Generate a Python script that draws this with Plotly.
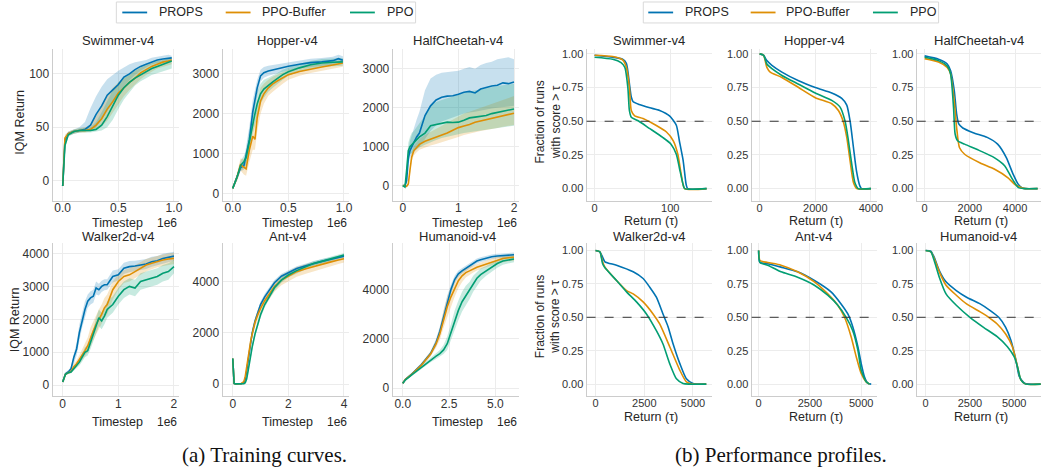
import plotly.graph_objects as go

W, H = 1047, 471
FONT = "Liberation Sans, Arial, DejaVu Sans, sans-serif"
SERIF = "Liberation Serif, Times New Roman, serif"
METHODS = ["PROPS", "PPO-Buffer", "PPO"]
COLORS = {"PROPS": "#0173b2", "PPO-Buffer": "#de8f05", "PPO": "#029e73"}
FILLS = {"PROPS": "rgba(1,115,178,0.22)", "PPO-Buffer": "rgba(222,143,5,0.22)", "PPO": "rgba(2,158,115,0.22)"}
ENVS = ["Swimmer-v4", "Hopper-v4", "HalfCheetah-v4", "Walker2d-v4", "Ant-v4", "Humanoid-v4"]

# ---------------- (a) training curves : timestep (1e6) vs IQM return ----------------
SWIM_T = [0, 0.02, 0.05, 0.1, 0.15, 0.2, 0.25, 0.3, 0.35, 0.4, 0.45, 0.5, 0.55, 0.6, 0.65, 0.7, 0.75, 0.8, 0.85, 0.9, 0.95, 0.98]
SWIM_PROPS = [-5, 38, 44, 46, 47, 48, 52, 62, 70, 80, 85, 90, 97, 100, 104, 107, 109, 111, 113, 114, 115, 115]
SWIM_PROPS_LO = [-7, 34, 42, 44, 45, 46, 47, 50, 57, 64, 72, 80, 88, 94, 99, 103, 106, 109, 110, 111, 112, 112]
SWIM_PROPS_HI = [-3, 41, 46, 48, 50, 55, 68, 79, 88, 95, 99, 103, 106, 109, 111, 112, 113, 115, 116, 117, 118, 117]
SWIM_BUF = [-5, 40, 44, 46, 47, 47, 48, 52, 58, 67, 74, 82, 87, 92, 96, 101, 104, 107, 109, 111, 112, 113]
SWIM_BUF_LO = [-7, 36, 42, 44, 45, 45, 46, 48, 51, 56, 63, 71, 79, 85, 90, 95, 99, 102, 105, 107, 108, 109]
SWIM_BUF_HI = [-3, 43, 46, 48, 49, 50, 52, 60, 70, 80, 87, 92, 96, 99, 103, 106, 108, 110, 112, 113, 114, 115]
SWIM_PPO = [-5, 33, 43, 46, 47, 47, 47, 48, 52, 60, 70, 80, 87, 92, 96, 99, 102, 105, 107, 109, 111, 112]
SWIM_PPO_LO = [-7, 30, 41, 44, 45, 45, 45, 46, 47, 50, 57, 67, 76, 83, 89, 93, 96, 99, 101, 103, 104, 105]
SWIM_PPO_HI = [-3, 36, 45, 48, 49, 49, 50, 55, 64, 75, 85, 92, 97, 100, 103, 106, 108, 110, 112, 113, 114, 115]

HOP_T = [0, 0.04, 0.07, 0.1, 0.12, 0.15, 0.18, 0.2, 0.22, 0.25, 0.28, 0.32, 0.36, 0.4, 0.45, 0.5, 0.6, 0.7, 0.8, 0.9, 0.95, 0.99]
HOP_PROPS = [130, 400, 650, 700, 950, 1350, 2050, 2400, 2650, 2950, 3030, 3070, 3100, 3130, 3150, 3190, 3240, 3280, 3300, 3330, 3380, 3340]
HOP_PROPS_LO = [100, 330, 560, 600, 750, 1050, 1700, 2150, 2450, 2800, 2900, 2950, 2990, 3020, 3050, 3090, 3140, 3180, 3200, 3230, 3280, 3250]
HOP_PROPS_HI = [160, 470, 740, 820, 1150, 1700, 2350, 2650, 2850, 3100, 3170, 3200, 3220, 3250, 3260, 3300, 3340, 3380, 3400, 3430, 3480, 3440]
HOP_BUF = [130, 420, 720, 650, 620, 1100, 1440, 1360, 1900, 2320, 2500, 2650, 2750, 2820, 2900, 2980, 3060, 3120, 3170, 3220, 3250, 3270]
HOP_BUF_LO = [100, 330, 580, 480, 450, 800, 1100, 1100, 1550, 2000, 2250, 2450, 2550, 2650, 2750, 2850, 2950, 3020, 3080, 3130, 3160, 3180]
HOP_BUF_HI = [160, 520, 880, 850, 850, 1450, 1800, 1800, 2300, 2650, 2750, 2850, 2930, 2980, 3050, 3100, 3170, 3220, 3260, 3300, 3330, 3350]
HOP_PPO = [130, 420, 700, 800, 900, 1350, 1800, 2000, 2250, 2500, 2620, 2720, 2800, 2880, 2980, 3050, 3150, 3230, 3270, 3290, 3300, 3300]
HOP_PPO_LO = [100, 350, 580, 650, 720, 1100, 1500, 1700, 1950, 2250, 2400, 2550, 2650, 2750, 2850, 2950, 3050, 3130, 3170, 3190, 3200, 3200]
HOP_PPO_HI = [160, 490, 820, 950, 1080, 1600, 2100, 2300, 2550, 2750, 2850, 2900, 2950, 3020, 3100, 3160, 3250, 3320, 3370, 3390, 3400, 3400]

HC_T = [0, 0.04, 0.07, 0.1, 0.13, 0.16, 0.2, 0.25, 0.3, 0.4, 0.5, 0.6, 0.7, 0.8, 0.9, 1.0, 1.1, 1.2, 1.3, 1.4, 1.5, 1.6, 1.7, 1.8, 1.9, 2.0]
HC_PROPS = [0, 0, 130, 700, 900, 1000, 1110, 1250, 1350, 1800, 2050, 2200, 2270, 2300, 2310, 2350, 2400, 2420, 2380, 2480, 2530, 2560, 2580, 2640, 2620, 2660]
HC_PROPS_LO = [0, -30, 50, 550, 700, 800, 880, 950, 1000, 1200, 1400, 1550, 1650, 1700, 1750, 1800, 1850, 1880, 1900, 1920, 1950, 1980, 2000, 2020, 2030, 2050]
HC_PROPS_HI = [0, 30, 250, 900, 1150, 1300, 1500, 1700, 1900, 2450, 2750, 2850, 2900, 2920, 2930, 2950, 3000, 3050, 3000, 3100, 3150, 3180, 3250, 3280, 3300, 3250]
HC_BUF = [0, 0, -20, 40, 400, 730, 900, 990, 1060, 1140, 1190, 1240, 1290, 1350, 1420, 1490, 1530, 1570, 1630, 1660, 1700, 1730, 1760, 1800, 1830, 1860]
HC_BUF_LO = [0, -20, -50, 0, 300, 620, 780, 860, 920, 980, 1030, 1070, 1100, 1150, 1200, 1250, 1300, 1330, 1370, 1400, 1430, 1460, 1480, 1510, 1540, 1560]
HC_BUF_HI = [0, 20, 10, 80, 500, 840, 1020, 1120, 1200, 1300, 1380, 1450, 1520, 1600, 1700, 1780, 1850, 1900, 1950, 2000, 2050, 2100, 2150, 2200, 2250, 2300]
HC_PPO = [0, -40, 400, 900, 1000, 1050, 1090, 1180, 1250, 1350, 1540, 1570, 1600, 1630, 1620, 1630, 1680, 1740, 1760, 1780, 1800, 1850, 1880, 1920, 1950, 1970]
HC_PPO_LO = [0, -60, 250, 700, 800, 850, 880, 930, 980, 1050, 1120, 1170, 1220, 1260, 1290, 1320, 1350, 1380, 1400, 1420, 1440, 1460, 1480, 1500, 1520, 1540]
HC_PPO_HI = [0, -20, 550, 1100, 1250, 1350, 1400, 1500, 1600, 1800, 2050, 2150, 2200, 2250, 2300, 2350, 2380, 2420, 2450, 2480, 2500, 2530, 2560, 2580, 2600, 2620]

WAL_T = [0, 0.05, 0.1, 0.15, 0.2, 0.25, 0.3, 0.35, 0.4, 0.45, 0.5, 0.55, 0.6, 0.65, 0.7, 0.75, 0.8, 0.9, 1.0, 1.1, 1.2, 1.3, 1.4, 1.5, 1.6, 1.7, 1.8, 1.9, 2.0]
WAL_PROPS = [100, 350, 400, 500, 850, 1100, 1600, 2000, 2300, 2550, 2650, 2700, 2950, 2900, 3000, 3050, 3050, 3300, 3350, 3550, 3600, 3620, 3650, 3680, 3750, 3780, 3850, 3880, 3920]
WAL_PROPS_LO = [80, 300, 350, 430, 650, 900, 1350, 1750, 2050, 2350, 2450, 2500, 2750, 2720, 2830, 2880, 2900, 3120, 3180, 3380, 3430, 3460, 3500, 3530, 3600, 3640, 3700, 3740, 3780]
WAL_PROPS_HI = [120, 400, 450, 570, 950, 1300, 1850, 2250, 2550, 2750, 2850, 2900, 3150, 3080, 3170, 3220, 3220, 3480, 3520, 3720, 3770, 3780, 3800, 3830, 3900, 3920, 3990, 4010, 4050]
WAL_BUF = [100, 330, 380, 420, 560, 650, 780, 900, 1050, 1200, 1450, 1650, 1850, 2000, 2150, 2350, 2450, 2900, 3150, 3300, 3350, 3450, 3550, 3650, 3700, 3760, 3800, 3830, 3850]
WAL_BUF_LO = [80, 300, 340, 370, 480, 560, 660, 760, 880, 1000, 1200, 1350, 1550, 1700, 1850, 2050, 2150, 2600, 2900, 3100, 3150, 3250, 3350, 3450, 3520, 3580, 3620, 3650, 3680]
WAL_BUF_HI = [120, 360, 420, 480, 650, 760, 920, 1100, 1300, 1450, 1750, 1950, 2150, 2300, 2450, 2650, 2750, 3150, 3380, 3500, 3550, 3650, 3750, 3830, 3880, 3930, 3970, 4000, 4020]
WAL_PPO = [100, 330, 380, 400, 500, 600, 700, 850, 1000, 1050, 1300, 1500, 1800, 2050, 1950, 2100, 2300, 2450, 2700, 2900, 3000, 2950, 3150, 3200, 3250, 3300, 3400, 3450, 3600]
WAL_PPO_LO = [80, 300, 340, 360, 440, 520, 600, 720, 850, 900, 1100, 1300, 1550, 1800, 1700, 1850, 2050, 2200, 2450, 2650, 2750, 2700, 2900, 2950, 3000, 3050, 3150, 3200, 3400]
WAL_PPO_HI = [120, 360, 420, 440, 560, 680, 800, 980, 1150, 1200, 1500, 1700, 2050, 2300, 2200, 2350, 2550, 2700, 2950, 3150, 3250, 3200, 3400, 3450, 3500, 3550, 3650, 3700, 3800]

ANT_T = [0, 0.05, 0.1, 0.2, 0.3, 0.4, 0.45, 0.5, 0.55, 0.6, 0.65, 0.7, 0.8, 0.9, 1.0, 1.15, 1.3, 1.5, 1.75, 2.0, 2.3, 2.6, 2.9, 3.2, 3.5, 3.8, 4.0]
ANT_PROPS = [1000, 30, 10, 10, 15, 60, 200, 500, 900, 1350, 1700, 2000, 2450, 2800, 3100, 3400, 3650, 3950, 4200, 4350, 4500, 4600, 4700, 4780, 4850, 4920, 4980]
ANT_PROPS_LO = [980, 10, 0, 0, 0, 30, 150, 420, 800, 1230, 1580, 1880, 2330, 2680, 2980, 3280, 3540, 3850, 4100, 4260, 4410, 4510, 4610, 4690, 4770, 4840, 4900]
ANT_PROPS_HI = [1020, 50, 20, 20, 30, 90, 250, 580, 1000, 1470, 1820, 2120, 2570, 2920, 3220, 3520, 3760, 4050, 4300, 4440, 4590, 4690, 4790, 4870, 4930, 5000, 5060]
ANT_BUF = [1000, 30, 10, 10, 20, 100, 300, 650, 1050, 1450, 1700, 1950, 2400, 2700, 2950, 3250, 3500, 3800, 4050, 4200, 4380, 4480, 4580, 4650, 4750, 4830, 4880]
ANT_BUF_LO = [980, 10, 0, 0, 0, 60, 220, 540, 920, 1300, 1540, 1780, 2220, 2500, 2750, 3050, 3300, 3600, 3850, 4000, 4180, 4290, 4400, 4480, 4590, 4680, 4740]
ANT_BUF_HI = [1020, 50, 20, 20, 40, 140, 380, 760, 1180, 1600, 1860, 2120, 2580, 2900, 3150, 3450, 3700, 4000, 4250, 4400, 4560, 4660, 4750, 4810, 4900, 4970, 5010]
ANT_PPO = [1000, 30, 10, 10, 10, 20, 60, 200, 500, 850, 1150, 1450, 1950, 2350, 2700, 3100, 3400, 3750, 4050, 4250, 4420, 4550, 4700, 4780, 4870, 4960, 5030]
ANT_PPO_LO = [980, 10, 0, 0, 0, 5, 30, 140, 420, 750, 1040, 1330, 1830, 2230, 2580, 2980, 3280, 3640, 3950, 4150, 4330, 4460, 4610, 4700, 4790, 4880, 4950]
ANT_PPO_HI = [1020, 50, 20, 20, 20, 35, 90, 260, 580, 950, 1260, 1570, 2070, 2470, 2820, 3220, 3520, 3860, 4150, 4350, 4510, 4640, 4790, 4860, 4950, 5040, 5110]

HUM_T = [0, 0.15, 0.5, 1.0, 1.5, 1.8, 2.0, 2.2, 2.4, 2.6, 2.8, 3.0, 3.2, 3.4, 3.6, 3.8, 4.0, 4.2, 4.5, 4.8, 5.1, 5.4, 5.7, 6.0]
HUM_PROPS = [200, 360, 580, 950, 1400, 1850, 2300, 2900, 3500, 4000, 4400, 4630, 4750, 4850, 4950, 5050, 5150, 5200, 5270, 5320, 5350, 5370, 5380, 5400]
HUM_PROPS_LO = [150, 320, 530, 880, 1300, 1700, 2100, 2650, 3250, 3800, 4250, 4500, 4640, 4750, 4850, 4950, 5050, 5100, 5180, 5230, 5260, 5280, 5290, 5300]
HUM_PROPS_HI = [250, 400, 630, 1020, 1500, 2000, 2500, 3150, 3750, 4200, 4550, 4760, 4860, 4950, 5050, 5150, 5250, 5300, 5360, 5410, 5440, 5460, 5470, 5490]
HUM_BUF = [200, 360, 570, 930, 1380, 1800, 2200, 2800, 3300, 3700, 4050, 4350, 4550, 4680, 4750, 4830, 4900, 4950, 5030, 5120, 5200, 5250, 5280, 5300]
HUM_BUF_LO = [150, 320, 520, 860, 1280, 1650, 1950, 2450, 2900, 3300, 3700, 4050, 4300, 4480, 4580, 4680, 4760, 4820, 4900, 4980, 5060, 5110, 5140, 5160]
HUM_BUF_HI = [250, 400, 620, 1000, 1480, 1950, 2450, 3150, 3700, 4100, 4400, 4650, 4800, 4880, 4920, 4980, 5040, 5080, 5160, 5250, 5330, 5380, 5410, 5440]
HUM_PPO = [200, 340, 550, 850, 1150, 1300, 1400, 1550, 1800, 2250, 2750, 3150, 3500, 3750, 3950, 4250, 4450, 4600, 4750, 4900, 5050, 5150, 5200, 5230]
HUM_PPO_LO = [150, 300, 500, 780, 1050, 1180, 1270, 1380, 1550, 1900, 2350, 2750, 3100, 3350, 3600, 3900, 4150, 4350, 4550, 4720, 4880, 5000, 5060, 5100]
HUM_PPO_HI = [250, 380, 600, 920, 1250, 1420, 1550, 1750, 2100, 2600, 3150, 3550, 3900, 4150, 4300, 4550, 4720, 4850, 4950, 5080, 5200, 5290, 5330, 5360]

# ---------------- (b) performance profiles : return tau vs fraction of runs ----------------
PP_SWIM_PROPS_X = [0, 24, 37, 42, 46, 48.5, 51, 59, 73, 86, 99, 108, 112, 117, 121, 123, 148]
PP_SWIM_PROPS_Y = [0.99, 0.975, 0.96, 0.93, 0.78, 0.68, 0.645, 0.625, 0.60, 0.58, 0.54, 0.47, 0.355, 0.21, 0.03, 0.0, 0.0]
PP_SWIM_BUF_X = [0, 24, 37, 42, 46, 48.5, 53, 64, 81, 95, 104, 110, 114.5, 119, 148]
PP_SWIM_BUF_Y = [0.99, 0.98, 0.955, 0.90, 0.75, 0.58, 0.54, 0.52, 0.47, 0.42, 0.355, 0.255, 0.105, 0.0, 0.0]
PP_SWIM_PPO_X = [0, 24, 35, 40, 44, 46, 48.5, 57, 73, 90, 101, 108, 112, 117, 119, 148]
PP_SWIM_PPO_Y = [0.975, 0.96, 0.935, 0.90, 0.75, 0.58, 0.53, 0.505, 0.445, 0.38, 0.33, 0.255, 0.155, 0.03, 0.0, 0.0]

PP_HOP_PROPS_X = [0, 140, 260, 440, 800, 1400, 2000, 2590, 2950, 3130, 3250, 3370, 3480, 3600, 3660, 4000]
PP_HOP_PROPS_Y = [1.0, 0.99, 0.95, 0.915, 0.865, 0.80, 0.75, 0.71, 0.67, 0.62, 0.50, 0.305, 0.13, 0.02, 0.0, 0.0]
PP_HOP_BUF_X = [0, 140, 260, 380, 800, 1400, 2000, 2590, 2830, 3000, 3130, 3250, 3370, 3490, 4000]
PP_HOP_BUF_Y = [1.0, 0.99, 0.90, 0.865, 0.825, 0.75, 0.675, 0.63, 0.58, 0.50, 0.38, 0.205, 0.045, 0.0, 0.0]
PP_HOP_PPO_X = [0, 140, 260, 440, 800, 1400, 2000, 2590, 2890, 3070, 3190, 3310, 3420, 3540, 4000]
PP_HOP_PPO_Y = [1.0, 0.99, 0.925, 0.89, 0.84, 0.775, 0.71, 0.655, 0.605, 0.50, 0.355, 0.18, 0.045, 0.0, 0.0]

PP_HC_PROPS_X = [0, 615, 1000, 1150, 1310, 1415, 1510, 1690, 2150, 2770, 3230, 3615, 3920, 4150, 4300, 4460, 5000]
PP_HC_PROPS_Y = [0.985, 0.96, 0.925, 0.875, 0.73, 0.555, 0.48, 0.45, 0.415, 0.38, 0.33, 0.23, 0.105, 0.03, 0.007, 0.0, 0.0]
PP_HC_BUF_X = [0, 615, 1000, 1150, 1310, 1415, 1540, 1770, 2460, 3080, 3690, 4000, 4300, 4460, 5000]
PP_HC_BUF_Y = [0.965, 0.94, 0.90, 0.85, 0.65, 0.455, 0.305, 0.255, 0.19, 0.145, 0.08, 0.03, 0.007, 0.0, 0.0]
PP_HC_PPO_X = [0, 615, 1000, 1150, 1280, 1350, 1460, 1770, 2460, 3080, 3540, 3850, 4150, 4380, 5000]
PP_HC_PPO_Y = [0.975, 0.95, 0.91, 0.85, 0.60, 0.405, 0.355, 0.33, 0.28, 0.23, 0.17, 0.08, 0.007, 0.0, 0.0]

PP_WAL_PROPS_X = [0, 220, 360, 480, 1075, 1930, 2440, 2780, 3120, 3460, 3720, 3980, 4320, 4660, 5000, 5680]
PP_WAL_PROPS_Y = [1.0, 0.99, 0.95, 0.915, 0.89, 0.84, 0.79, 0.725, 0.65, 0.525, 0.43, 0.30, 0.155, 0.04, 0.005, 0.0]
PP_WAL_BUF_X = [0, 220, 360, 480, 1075, 1590, 1930, 2440, 2950, 3290, 3805, 4320, 4660, 5000, 5680]
PP_WAL_BUF_Y = [1.0, 0.99, 0.915, 0.875, 0.775, 0.70, 0.675, 0.615, 0.525, 0.45, 0.28, 0.105, 0.017, 0.0, 0.0]
PP_WAL_PPO_X = [0, 220, 360, 480, 1075, 1590, 2100, 2610, 3120, 3460, 3800, 4150, 4490, 4800, 5680]
PP_WAL_PPO_Y = [1.0, 0.99, 0.90, 0.87, 0.775, 0.69, 0.615, 0.525, 0.40, 0.30, 0.155, 0.04, 0.005, 0.0, 0.0]

PP_ANT_PROPS_X = [0, 65, 440, 1090, 1900, 2720, 3530, 4020, 4350, 4590, 4840, 5000, 5160, 5330, 5490]
PP_ANT_PROPS_Y = [1.0, 0.91, 0.90, 0.875, 0.84, 0.775, 0.69, 0.60, 0.525, 0.43, 0.28, 0.155, 0.055, 0.005, 0.0]
PP_ANT_BUF_X = [0, 65, 440, 1090, 1900, 2720, 3370, 3860, 4190, 4510, 4760, 5000, 5245, 5410]
PP_ANT_BUF_Y = [1.0, 0.925, 0.91, 0.89, 0.84, 0.765, 0.675, 0.59, 0.50, 0.355, 0.205, 0.08, 0.017, 0.0]
PP_ANT_PPO_X = [0, 65, 440, 765, 1090, 1900, 2720, 3370, 3860, 4270, 4590, 4840, 5000, 5245, 5410]
PP_ANT_PPO_Y = [1.0, 0.91, 0.89, 0.865, 0.84, 0.80, 0.74, 0.665, 0.59, 0.50, 0.40, 0.255, 0.105, 0.017, 0.0]

PP_HUM_PROPS_X = [0, 290, 480, 770, 1150, 1730, 2310, 3080, 3650, 4130, 4520, 4810, 5100, 5290, 5580, 5870, 6500]
PP_HUM_PROPS_Y = [1.0, 0.995, 0.95, 0.85, 0.765, 0.70, 0.65, 0.60, 0.55, 0.50, 0.425, 0.33, 0.18, 0.057, 0.007, 0.0, 0.0]
PP_HUM_BUF_X = [0, 290, 480, 770, 1150, 1730, 2310, 3080, 3560, 4040, 4520, 4900, 5190, 5380, 5650, 6500]
PP_HUM_BUF_Y = [1.0, 0.99, 0.94, 0.84, 0.74, 0.665, 0.60, 0.54, 0.50, 0.45, 0.375, 0.28, 0.13, 0.032, 0.0, 0.0]
PP_HUM_PPO_X = [0, 290, 480, 770, 1150, 1730, 2500, 3270, 4040, 4620, 5000, 5190, 5380, 5650, 6500]
PP_HUM_PPO_Y = [1.0, 0.99, 0.925, 0.80, 0.675, 0.59, 0.50, 0.425, 0.355, 0.28, 0.205, 0.13, 0.032, 0.0, 0.0]

# axis ticks
TRAIN_XTICKS = [[0, 0.5, 1.0], [0, 0.5, 1.0], [0, 1, 2], [0, 1, 2], [0, 2, 4], [0, 2.5, 5.0]]
TRAIN_XFMT = [".1f", ".1f", "d", "d", "d", ".1f"]
TRAIN_YTICKS = [[0, 50, 100], [0, 1000, 2000, 3000], [0, 1000, 2000, 3000],
                [0, 1000, 2000, 3000, 4000], [0, 2000, 4000], [0, 2000, 4000]]
PP_XTICKS = [[0, 100], [0, 2000, 4000], [0, 2000, 4000], [0, 2500, 5000], [0, 2500, 5000], [0, 2500, 5000]]
PP_YTICKS = [0.0, 0.25, 0.5, 0.75, 1.0]

TRAIN = [
    (SWIM_T, [(SWIM_PROPS, SWIM_PROPS_LO, SWIM_PROPS_HI), (SWIM_BUF, SWIM_BUF_LO, SWIM_BUF_HI), (SWIM_PPO, SWIM_PPO_LO, SWIM_PPO_HI)]),
    (HOP_T, [(HOP_PROPS, HOP_PROPS_LO, HOP_PROPS_HI), (HOP_BUF, HOP_BUF_LO, HOP_BUF_HI), (HOP_PPO, HOP_PPO_LO, HOP_PPO_HI)]),
    (HC_T, [(HC_PROPS, HC_PROPS_LO, HC_PROPS_HI), (HC_BUF, HC_BUF_LO, HC_BUF_HI), (HC_PPO, HC_PPO_LO, HC_PPO_HI)]),
    (WAL_T, [(WAL_PROPS, WAL_PROPS_LO, WAL_PROPS_HI), (WAL_BUF, WAL_BUF_LO, WAL_BUF_HI), (WAL_PPO, WAL_PPO_LO, WAL_PPO_HI)]),
    (ANT_T, [(ANT_PROPS, ANT_PROPS_LO, ANT_PROPS_HI), (ANT_BUF, ANT_BUF_LO, ANT_BUF_HI), (ANT_PPO, ANT_PPO_LO, ANT_PPO_HI)]),
    (HUM_T, [(HUM_PROPS, HUM_PROPS_LO, HUM_PROPS_HI), (HUM_BUF, HUM_BUF_LO, HUM_BUF_HI), (HUM_PPO, HUM_PPO_LO, HUM_PPO_HI)]),
]
PROFILES = [
    [(PP_SWIM_PROPS_X, PP_SWIM_PROPS_Y), (PP_SWIM_BUF_X, PP_SWIM_BUF_Y), (PP_SWIM_PPO_X, PP_SWIM_PPO_Y)],
    [(PP_HOP_PROPS_X, PP_HOP_PROPS_Y), (PP_HOP_BUF_X, PP_HOP_BUF_Y), (PP_HOP_PPO_X, PP_HOP_PPO_Y)],
    [(PP_HC_PROPS_X, PP_HC_PROPS_Y), (PP_HC_BUF_X, PP_HC_BUF_Y), (PP_HC_PPO_X, PP_HC_PPO_Y)],
    [(PP_WAL_PROPS_X, PP_WAL_PROPS_Y), (PP_WAL_BUF_X, PP_WAL_BUF_Y), (PP_WAL_PPO_X, PP_WAL_PPO_Y)],
    [(PP_ANT_PROPS_X, PP_ANT_PROPS_Y), (PP_ANT_BUF_X, PP_ANT_BUF_Y), (PP_ANT_PPO_X, PP_ANT_PPO_Y)],
    [(PP_HUM_PROPS_X, PP_HUM_PROPS_Y), (PP_HUM_BUF_X, PP_HUM_BUF_Y), (PP_HUM_PPO_X, PP_HUM_PPO_Y)],
]

# ---------------- layout geometry (pixels) ----------------
LEFT_COLS = [(53, 180), (224, 351), (395, 522)]
RIGHT_COLS = [(590, 716), (756, 882), (922, 1047)]
ROWS = [(48, 200), (243, 396)]
TRAIN_XMAX = [1.0, 1.0, 2.0, 2.0, 4.0, 6.0]
TRAIN_YRANGE = [[-18.7, 123.4], [-175, 3625], [-385, 3513], [-333, 4303], [-466, 5476], [-323, 5859]]
PP_XRANGE = [[-10.5, 155], [-286, 4214], [-350, 5150], [-460, 5970], [-340, 5770], [-506, 6517]]
PP_YRANGE = [[-0.089, 1.037], [-0.09, 1.052]]


def fx(p):
    return p / W


def fy(p):
    return 1 - p / H


def ax_names(i):
    s = "" if i == 1 else str(i)
    return "x" + s, "y" + s, "xaxis" + s, "yaxis" + s


fig = go.Figure()
layout = dict(
    width=W, height=H, margin=dict(l=0, r=0, t=0, b=0),
    paper_bgcolor="white", plot_bgcolor="white", showlegend=False,
    font=dict(family=FONT, color="#262626"),
)
common = dict(showline=True, linecolor="#cccccc", linewidth=1.2, showgrid=True,
              gridcolor="#ececec", gridwidth=1, zeroline=False, ticks="",
              fixedrange=True)
annotations = []
shapes = []

for k in range(6):
    i = k + 1
    xa, ya, xk, yk = ax_names(i)
    r, c = divmod(k, 3)
    x0, x1 = LEFT_COLS[c]
    top, bot = ROWS[r]
    M = TRAIN_XMAX[k]
    layout[xk] = dict(common, domain=[fx(x0), fx(x1)], anchor=ya, range=[-0.09 * M, 1.045 * M],
                      tickvals=TRAIN_XTICKS[k], tickformat=TRAIN_XFMT[k], ticklabelstandoff=-4,
                      tickfont=dict(size=12, color="#333333"))
    layout[yk] = dict(common, domain=[fy(bot), fy(top)], anchor=xa, range=TRAIN_YRANGE[k],
                      tickvals=TRAIN_YTICKS[k], tickformat="d",
                      tickfont=dict(size=12, color="#333333"))
    T, series = TRAIN[k]
    for m, (mean, lo, hi) in zip(METHODS, series):
        fig.add_trace(go.Scatter(x=T + T[::-1], y=hi + lo[::-1], fill="toself", fillcolor=FILLS[m],
                                 line=dict(width=0), mode="lines", hoverinfo="skip",
                                 xaxis=xa, yaxis=ya, showlegend=False))
    for m, (mean, lo, hi) in zip(METHODS, series):
        fig.add_trace(go.Scatter(x=T, y=mean, mode="lines", name=m,
                                 line=dict(color=COLORS[m], width=1.6),
                                 xaxis=xa, yaxis=ya, showlegend=False))
    cx = (x0 + x1) / 2 + 2
    annotations.append(dict(text=ENVS[k], x=fx(cx), y=fy(40 + r * 196), xref="paper", yref="paper",
                            showarrow=False, font=dict(size=13, color="#262626"),
                            xanchor="center", yanchor="middle"))
    annotations.append(dict(text="Timestep", x=fx(cx), y=fy(222 + r * 200), xref="paper", yref="paper",
                            showarrow=False, font=dict(size=12.5, color="#262626"),
                            xanchor="center", yanchor="middle"))
    annotations.append(dict(text="1e6", x=fx(x1), y=fy(222 + r * 200), xref="paper", yref="paper",
                            showarrow=False, font=dict(size=12, color="#262626"),
                            xanchor="right", yanchor="middle"))

for k in range(6):
    i = k + 7
    xa, ya, xk, yk = ax_names(i)
    r, c = divmod(k, 3)
    x0, x1 = RIGHT_COLS[c]
    top, bot = ROWS[r]
    layout[xk] = dict(common, domain=[fx(x0), fx(x1)], anchor=ya, range=PP_XRANGE[k],
                      tickvals=PP_XTICKS[k], tickformat="d", ticklabelstandoff=-3,
                      tickfont=dict(size=11, color="#333333"))
    layout[yk] = dict(common, domain=[fy(bot), fy(top)], anchor=xa, range=PP_YRANGE[r],
                      tickvals=PP_YTICKS, tickformat=".2f",
                      tickfont=dict(size=11, color="#333333"))
    for m, (xs, ys) in zip(METHODS, PROFILES[k]):
        fig.add_trace(go.Scatter(x=xs, y=ys, mode="lines", name=m,
                                 line=dict(color=COLORS[m], width=1.6, shape="spline", smoothing=0.6),
                                 xaxis=xa, yaxis=ya, showlegend=False))
    shapes.append(dict(type="line", xref=xa + " domain", yref=ya, x0=0, x1=1, y0=0.5, y1=0.5,
                       line=dict(color="#333333", width=1, dash="dash"), layer="above"))
    cx = (x0 + x1) / 2
    annotations.append(dict(text=ENVS[k], x=fx(cx), y=fy(40 + r * 196), xref="paper", yref="paper",
                            showarrow=False, font=dict(size=13, color="#262626"),
                            xanchor="center", yanchor="middle"))
    annotations.append(dict(text="Return (τ)", x=fx(cx + 2), y=fy(220 + r * 197), xref="paper", yref="paper",
                            showarrow=False, font=dict(size=12.5, color="#262626"),
                            xanchor="center", yanchor="middle"))

# y-axis labels
for xc, yc in ((20, 121), (15, 319)):
    annotations.append(dict(text="IQM Return", x=fx(xc), y=fy(yc), xref="paper", yref="paper",
                            showarrow=False, textangle=-90, font=dict(size=12.5, color="#262626"),
                            xanchor="center", yanchor="middle"))
for yc in (121, 316):
    annotations.append(dict(text="Fraction of runs<br>with score > τ", x=fx(551), y=fy(yc),
                            xref="paper", yref="paper", showarrow=False, textangle=-90,
                            font=dict(size=12, color="#262626"), xanchor="center", yanchor="middle"))

# legends (one per panel group)
LEGENDS = [
    dict(box=(117, 418), lines=[(123, 148), (227, 252), (352, 377)], texts=[158, 262, 387]),
    dict(box=(647, 944), lines=[(652, 677), (755, 780), (878, 903)], texts=[687, 789, 913]),
]
for lg in LEGENDS:
    shapes.append(dict(type="rect", xref="paper", yref="paper", x0=fx(lg["box"][0]), x1=fx(lg["box"][1]),
                       y0=fy(22), y1=fy(1), line=dict(color="#d9d9d9", width=1), fillcolor="white"))
    for m, (a, b), t in zip(METHODS, lg["lines"], lg["texts"]):
        shapes.append(dict(type="line", xref="paper", yref="paper", x0=fx(a), x1=fx(b), y0=fy(11.5), y1=fy(11.5),
                           line=dict(color=COLORS[m], width=1.8)))
        annotations.append(dict(text=m, x=fx(t), y=fy(11.5), xref="paper", yref="paper", showarrow=False,
                                font=dict(size=12.5, color="#262626"), xanchor="left", yanchor="middle"))

# captions
annotations.append(dict(text="(a) Training curves.", x=fx(266), y=fy(455), xref="paper", yref="paper",
                        showarrow=False, font=dict(family=SERIF, size=21, color="#111111"),
                        xanchor="center", yanchor="middle"))
annotations.append(dict(text="(b) Performance profiles.", x=fx(785), y=fy(455), xref="paper", yref="paper",
                        showarrow=False, font=dict(family=SERIF, size=21, color="#111111"),
                        xanchor="center", yanchor="middle"))

layout["annotations"] = annotations
layout["shapes"] = shapes
fig.update_layout(**layout)
fig.write_html("out.html", config={"displayModeBar": False},
               post_script="document.body.style.margin='0';document.body.style.overflow='hidden';")
